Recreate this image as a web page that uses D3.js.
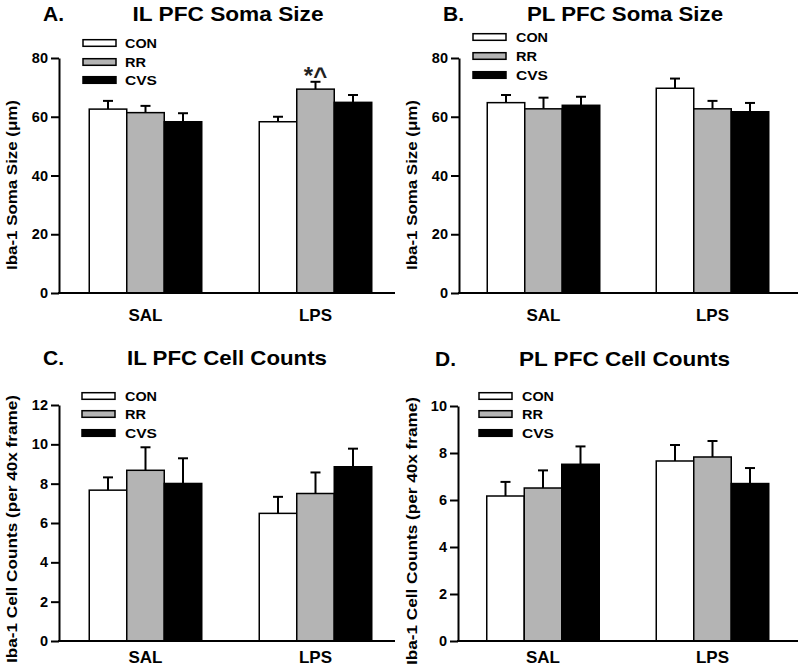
<!DOCTYPE html>
<html>
<head>
<meta charset="utf-8">
<script src="https://cdn.jsdelivr.net/npm/d3@7"></script>
<style>
  body { margin: 0; background: #fff; }
  svg { display: block; }
  text { font-family: "Liberation Sans", Arial, Helvetica, sans-serif; font-weight: bold; fill: #000; }
</style>
</head>
<body>
<svg id="chart" width="800" height="672"></svg>
<script>
// ---- data ----
const groups = ["SAL", "LPS"];
const series = ["CON", "RR", "CVS"];
const seriesColors = ["#ffffff", "#b4b4b4", "#000000"];

const ilSomaMean = [[62.6, 61.4, 58.3], [58.3, 69.4, 64.9]];
const ilSomaErr  = [[2.8, 2.3, 2.9], [1.7, 2.5, 2.5]];
const plSomaMean = [[64.8, 62.7, 63.9], [69.7, 62.7, 61.7]];
const plSomaErr  = [[2.6, 3.8, 2.9], [3.3, 2.7, 3.0]];
const ilCountMean = [[7.67, 8.68, 8.01], [6.49, 7.50, 8.86]];
const ilCountErr  = [[0.65, 1.17, 1.28], [0.84, 1.07, 0.92]];
const plCountMean = [[6.17, 6.51, 7.52], [7.66, 7.83, 6.70]];
const plCountErr  = [[0.60, 0.75, 0.76], [0.68, 0.68, 0.66]];

const somaTicks = [0, 20, 40, 60, 80];
const ilCountTicks = [0, 2, 4, 6, 8, 10, 12];
const plCountTicks = [0, 2, 4, 6, 8, 10];

const panelLetters = ["A.", "B.", "C.", "D."];
const panelTitles = ["IL PFC Soma Size", "PL PFC Soma Size", "IL PFC Cell Counts", "PL PFC Cell Counts"];
const yLabels = ["Iba-1 Soma Size (\u03BCm)", "Iba-1 Soma Size (\u03BCm)",
                 "Iba-1 Cell Counts (per 40x frame)", "Iba-1 Cell Counts (per 40x frame)"];
const annotations = [{ panel: 0, group: "LPS", series: "RR", text: "*^" }];

// ---- layout ----
const panels = [
  { mean: ilSomaMean, err: ilSomaErr, ticks: somaTicks, max: 80,
    left: 59, right: 395, top: 58, bottom: 293, centers: [86.5, 256.5],
    letterX: 43, titleX: 228, titleLen: 191, titleY: 21,
    legX: 83, legY: [43, 62, 80], legTextX: 126,
    ylx: 11, yly: 185, ylLen: 170, catY: 321 },
  { mean: plSomaMean, err: plSomaErr, ticks: somaTicks, max: 80,
    left: 459, right: 798, top: 58, bottom: 293, centers: [84.5, 253.5],
    letterX: 443, titleX: 625, titleLen: 196, titleY: 21,
    legX: 473, legY: [37, 56, 75], legTextX: 517,
    ylx: 411, yly: 185, ylLen: 170, catY: 321 },
  { mean: ilCountMean, err: ilCountErr, ticks: ilCountTicks, max: 12,
    left: 59, right: 395, top: 405, bottom: 641, centers: [86.5, 256.5],
    letterX: 43, titleX: 227, titleLen: 200, titleY: 365,
    legX: 82, legY: [396, 414, 433], legTextX: 126,
    ylx: 11, yly: 529, ylLen: 268, catY: 663 },
  { mean: plCountMean, err: plCountErr, ticks: plCountTicks, max: 10,
    left: 458, right: 798, top: 406, bottom: 641, centers: [85, 254.5],
    letterX: 435, titleX: 624.5, titleLen: 211, titleY: 366,
    legX: 479, legY: [396, 414, 433], legTextX: 523,
    ylx: 411, yly: 531, ylLen: 268, catY: 663 }
];

const svg = d3.select("#chart");
const barW = 37.5;

panels.forEach((p, pi) => {
  const g = svg.append("g");
  const y = d3.scaleLinear().domain([0, p.max]).range([p.bottom, p.top]);
  const x = d3.scalePoint().domain(groups).range([p.left + p.centers[0], p.left + p.centers[1]]);
  const xs = d3.scaleBand().domain(series).range([-barW * 1.5, barW * 1.5]).padding(0);

  // titles
  g.append("text").attr("x", p.letterX).attr("y", p.titleY)
    .style("font-size", "21px").text(panelLetters[pi]);
  g.append("text").attr("x", p.titleX).attr("y", p.titleY)
    .attr("text-anchor", "middle").style("font-size", "21px")
    .attr("textLength", p.titleLen).attr("lengthAdjust", "spacingAndGlyphs")
    .text(panelTitles[pi]);

  // y label
  g.append("text")
    .attr("transform", `translate(${p.ylx + 5.5},${p.yly}) rotate(-90)`)
    .attr("text-anchor", "middle").style("font-size", "15px")
    .attr("textLength", p.ylLen).attr("lengthAdjust", "spacingAndGlyphs")
    .text(yLabels[pi]);

  // bars
  groups.forEach((grp, gi) => {
    series.forEach((s, si) => {
      const v = p.mean[gi][si];
      const e = p.err[gi][si];
      const x0 = x(grp) + xs(s);
      const cx = x0 + barW / 2;
      // error bar (upward only)
      g.append("line").attr("x1", cx).attr("x2", cx)
        .attr("y1", y(v)).attr("y2", y(v + e))
        .attr("stroke", "#000").attr("stroke-width", 2);
      g.append("line").attr("x1", cx - 5).attr("x2", cx + 5)
        .attr("y1", y(v + e)).attr("y2", y(v + e))
        .attr("stroke", "#000").attr("stroke-width", 2);
      g.append("rect").attr("x", x0).attr("y", y(v))
        .attr("width", barW).attr("height", y(0) - y(v))
        .attr("fill", seriesColors[si]).attr("stroke", "#000").attr("stroke-width", 1.5);
    });
  });

  // annotations
  annotations.filter(a => a.panel === pi).forEach(a => {
    const gi = groups.indexOf(a.group), si = series.indexOf(a.series);
    const cx = x(a.group) + xs(a.series) + barW / 2;
    g.append("text").attr("x", cx).attr("y", y(p.mean[gi][si] + p.err[gi][si]) + 2)
      .attr("text-anchor", "middle").style("font-size", "24px").style("fill", "#222")
      .text(a.text);
  });

  // y axis
  const yAxis = d3.axisLeft(y).tickValues(p.ticks).tickSize(8).tickSizeOuter(0).tickPadding(3);
  const ya = g.append("g").attr("transform", `translate(${p.left},0)`).call(yAxis);
  ya.select(".domain").attr("stroke", "#000").attr("stroke-width", 2);
  ya.selectAll(".tick line").attr("stroke", "#000").attr("stroke-width", 2);
  ya.selectAll(".tick text").style("font-size", "14.5px").style("font-family", "'Liberation Sans', Arial, sans-serif")
    .style("font-weight", "bold").attr("fill", "#000");

  // x axis line
  g.append("line").attr("x1", p.left - 1).attr("x2", p.right)
    .attr("y1", p.bottom).attr("y2", p.bottom)
    .attr("stroke", "#000").attr("stroke-width", 2);

  // category labels
  groups.forEach(grp => {
    g.append("text").attr("x", x(grp)).attr("y", p.catY)
      .attr("text-anchor", "middle").style("font-size", "17px").text(grp);
  });

  // legend
  series.forEach((s, si) => {
    g.append("rect").attr("x", p.legX).attr("y", p.legY[si] - 3.3)
      .attr("width", 33).attr("height", 6.6)
      .attr("fill", seriesColors[si]).attr("stroke", "#000").attr("stroke-width", 1.5);
    g.append("text").attr("x", p.legTextX - 1).attr("y", p.legY[si])
      .attr("dy", "0.36em").style("font-size", "13.5px")
      .attr("textLength", s.length === 2 ? 21 : 32).attr("lengthAdjust", "spacingAndGlyphs")
      .text(s);
  });
});
</script>
</body>
</html>
